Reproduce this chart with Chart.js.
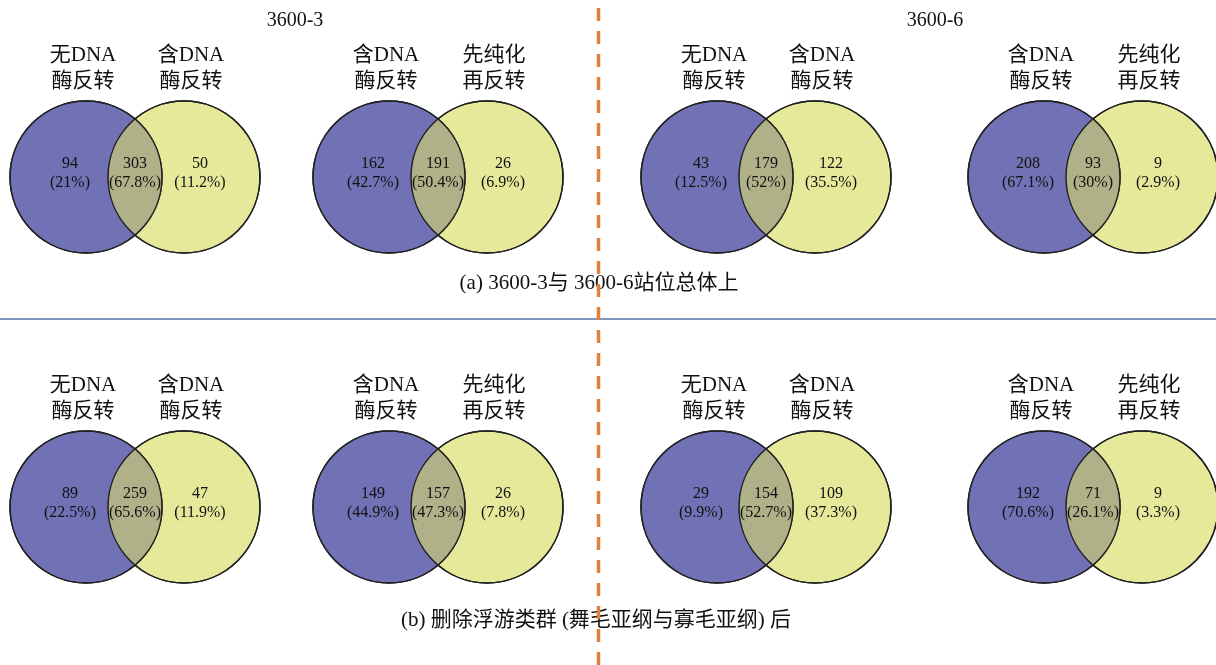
<!DOCTYPE html>
<html>
<head>
<meta charset="utf-8">
<script src="https://cdn.jsdelivr.net/npm/chart.js@4"></script>
<style>
    html, body { margin: 0; padding: 0; background: #fff; }
    #wrap { width: 1216px; height: 665px; position: relative; }
</style>
</head>
<body>
<div id="wrap"><canvas id="vennChart"></canvas></div>
<script>
// Dados: contagens de cada painel (linha a, depois linha b)
const stations = ['3600-3', '3600-6'];
const captions = ['(a) 3600-3与 3600-6站位总体上', '(b) 删除浮游类群 (舞毛亚纲与寡毛亚纲) 后'];
const leftLabels = ['无DNA\n酶反转', '含DNA\n酶反转', '无DNA\n酶反转', '含DNA\n酶反转',
                    '无DNA\n酶反转', '含DNA\n酶反转', '无DNA\n酶反转', '含DNA\n酶反转'];
const rightLabels = ['含DNA\n酶反转', '先纯化\n再反转', '含DNA\n酶反转', '先纯化\n再反转',
                     '含DNA\n酶反转', '先纯化\n再反转', '含DNA\n酶反转', '先纯化\n再反转'];
const onlyLeft  = [94, 162, 43, 208, 89, 149, 29, 192];
const shared    = [303, 191, 179, 93, 259, 157, 154, 71];
const onlyRight = [50, 26, 122, 9, 47, 26, 109, 9];

// Layout (pixels)
const panelX = [135, 438, 766, 1093];
const rowY = [177, 507];
const R = 76, D = 98;

const colors = { left: '#7171b5', right: '#e5e999', both: '#b1b189', edge: '#222222' };
const serif = '"Liberation Serif", "Times New Roman", "Noto Sans CJK SC", serif';

function pct(v, total) {
    let s = (v / total * 100).toFixed(1);
    if (s.endsWith('.0')) s = s.slice(0, -2);
    return '(' + s + '%)';
}

const leftPts = [], rightPts = [];
onlyLeft.forEach((_, i) => {
    const cx = panelX[i % 4], cy = rowY[Math.floor(i / 4)];
    leftPts.push({ x: cx - D / 2, y: cy, r: R });
    rightPts.push({ x: cx + D / 2, y: cy, r: R });
});

const vennPlugin = {
    id: 'venn',
    afterDatasetsDraw(chart) {
        const ctx = chart.ctx;
        const a = chart.getDatasetMeta(0).data;
        const b = chart.getDatasetMeta(1).data;
        ctx.save();
        for (let i = 0; i < a.length; i++) {
            const ra = a[i].options.radius, rb = b[i].options.radius;
            // lente de interseção
            ctx.save();
            ctx.beginPath();
            ctx.arc(a[i].x, a[i].y, ra, 0, Math.PI * 2);
            ctx.clip();
            ctx.beginPath();
            ctx.arc(b[i].x, b[i].y, rb, 0, Math.PI * 2);
            ctx.fillStyle = colors.both;
            ctx.fill();
            ctx.restore();
            ctx.strokeStyle = colors.edge;
            ctx.lineWidth = 1.5;
            ctx.beginPath(); ctx.arc(a[i].x, a[i].y, ra, 0, Math.PI * 2); ctx.stroke();
            ctx.beginPath(); ctx.arc(b[i].x, b[i].y, rb, 0, Math.PI * 2); ctx.stroke();

            // números
            const total = onlyLeft[i] + shared[i] + onlyRight[i];
            const cy = a[i].y;
            const xs = [a[i].x - 16, (a[i].x + b[i].x) / 2, b[i].x + 16];
            const vals = [onlyLeft[i], shared[i], onlyRight[i]];
            ctx.fillStyle = '#111';
            ctx.font = '16px ' + serif;
            ctx.textAlign = 'center';
            ctx.textBaseline = 'middle';
            vals.forEach((v, k) => {
                ctx.fillText(String(v), xs[k], cy - 13);
                ctx.fillText(pct(v, total), xs[k], cy + 6);
            });

            // rótulos dos conjuntos
            ctx.font = '21px ' + serif;
            const la = leftLabels[i].split('\n'), lb = rightLabels[i].split('\n');
            const ly = cy - 122;
            la.forEach((t, k) => ctx.fillText(t, a[i].x - 3, ly + k * 26));
            lb.forEach((t, k) => ctx.fillText(t, b[i].x + 7, ly + k * 26));
        }
        ctx.restore();
    },
    afterDraw(chart) {
        const ctx = chart.ctx;
        ctx.save();
        ctx.fillStyle = '#111';
        ctx.textAlign = 'center';
        ctx.textBaseline = 'middle';
        ctx.font = '20px ' + serif;
        ctx.fillText(stations[0], 295, 21);
        ctx.fillText(stations[1], 935, 21);
        ctx.font = '21px ' + serif;
        ctx.fillText(captions[0], 599, 283);
        ctx.fillText(captions[1], 596, 620);

        // linha horizontal azul
        ctx.strokeStyle = '#5574aa';
        ctx.lineWidth = 1.5;
        ctx.beginPath();
        ctx.moveTo(0, 319);
        ctx.lineTo(1216, 319);
        ctx.stroke();

        // linha vertical tracejada laranja
        ctx.strokeStyle = '#e0803c';
        ctx.lineWidth = 3.5;
        ctx.setLineDash([13, 10]);
        ctx.beginPath();
        ctx.moveTo(598.5, 8);
        ctx.lineTo(598.5, 665);
        ctx.stroke();
        ctx.restore();
    }
};

new Chart(document.getElementById('vennChart'), {
    type: 'bubble',
    data: {
        datasets: [
            { label: 'A', data: leftPts, backgroundColor: colors.left, borderColor: colors.edge, borderWidth: 1.5, clip: false },
            { label: 'B', data: rightPts, backgroundColor: colors.right, borderColor: colors.edge, borderWidth: 1.5, clip: false }
        ]
    },
    options: {
        responsive: true,
        maintainAspectRatio: false,
        animation: false,
        events: [],
        layout: { padding: 0, autoPadding: false },
        plugins: {
            legend: { display: false },
            tooltip: { enabled: false }
        },
        scales: {
            x: { type: 'linear', min: 0, max: 1216, display: false },
            y: { type: 'linear', min: 0, max: 665, reverse: true, display: false }
        }
    },
    plugins: [vennPlugin]
});
</script>
</body>
</html>
